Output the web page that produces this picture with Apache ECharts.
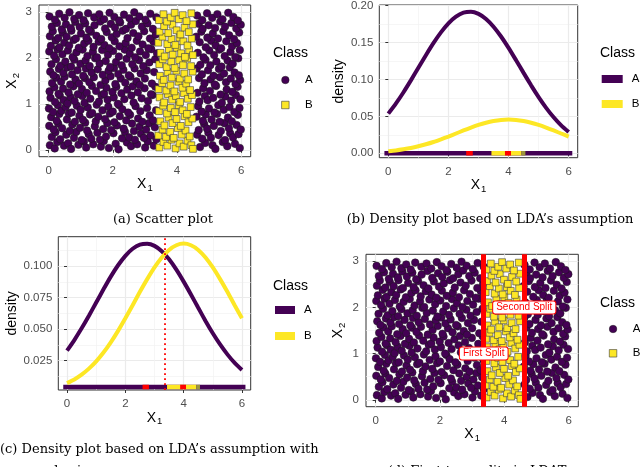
<!DOCTYPE html>
<html>
<head>
<meta charset="utf-8">
<script src="https://cdn.jsdelivr.net/npm/echarts@6/dist/echarts.min.js"></script>
<style>
html, body { margin: 0; padding: 0; background: #fff; }
#chart { width: 640px; height: 467px; }
</style>
</head>
<body>
<div id="chart"></div>
<script>
// points of class A (circles) (a) strip by strip
var classA = [
  [0.04,0.1],[0.19,0.03],[0.27,0.17],[0.48,0.09],[0.61,0.14],[0.7,0.02],[0.93,0.11],[1.1,0.18],[1.17,0.05],[1.39,0.12],[1.63,0.07],[1.72,0.19],[1.88,0.04],[2.09,0.13],[2.18,0.01],[2.44,0.16],[2.57,0.08],[2.76,0.12],[3.01,0.05],[3.09,0.18],[3.28,0.09],[4.72,0.06],[4.88,0.15],[5.11,0.1],[5.2,0.02],[5.43,0.17],[5.57,0.08],[5.81,0.13],[5.96,0.04],
  [0.1,0.28],[0.21,0.38],[0.36,0.23],[0.55,0.33],[0.79,0.26],[0.86,0.39],[1.03,0.21],[1.25,0.34],[1.33,0.24],[1.52,0.37],[1.6,0.22],[1.79,0.29],[2.02,0.36],[2.29,0.25],[2.38,0.39],[2.51,0.27],[2.69,0.22],[2.88,0.35],[2.97,0.26],[3.18,0.31],[3.36,0.23],[4.63,0.33],[4.79,0.24],[4.98,0.37],[5.06,0.26],[5.3,0.32],[5.5,0.21],[5.66,0.36],[5.75,0.27],[5.92,0.34],
  [0.02,0.52],[0.16,0.44],[0.3,0.57],[0.42,0.47],[0.66,0.41],[0.74,0.55],[0.98,0.48],[1.14,0.59],[1.2,0.42],[1.44,0.51],[1.7,0.45],[1.83,0.58],[1.95,0.43],[2.13,0.53],[2.34,0.46],[2.6,0.57],[2.66,0.41],[2.83,0.5],[3.04,0.44],[3.13,0.58],[3.31,0.49],[4.68,0.43],[4.85,0.56],[4.94,0.46],[5.15,0.52],[5.37,0.41],[5.48,0.58],[5.62,0.47],[5.86,0.54],[5.99,0.44],
  [0.08,0.71],[0.25,0.63],[0.33,0.78],[0.57,0.66],[0.63,0.79],[0.82,0.61],[0.96,0.74],[1.07,0.65],[1.29,0.77],[1.47,0.62],[1.55,0.72],[1.76,0.67],[1.91,0.79],[2.05,0.6],[2.22,0.73],[2.42,0.64],[2.54,0.76],[2.79,0.68],[2.92,0.61],[3.15,0.75],[3.26,0.64],[4.61,0.72],[4.81,0.63],[4.9,0.77],[5.08,0.66],[5.25,0.78],[5.33,0.61],[5.59,0.7],[5.71,0.62],[5.9,0.76],
  [0.01,0.9],[0.14,0.82],[0.29,0.97],[0.4,0.85],[0.53,0.93],[0.72,0.81],[0.88,0.96],[1.0,0.87],[1.22,0.92],[1.36,0.8],[1.5,0.98],[1.68,0.86],[1.86,0.94],[2.0,0.83],[2.2,0.97],[2.3,0.88],[2.48,0.81],[2.71,0.95],[2.86,0.84],[3.07,0.91],[3.35,0.86],[4.66,0.95],[4.77,0.83],[5.0,0.9],[5.17,0.81],[5.29,0.97],[5.46,0.87],[5.64,0.93],[5.79,0.82],[5.95,0.91],
  [0.06,1.13],[0.2,1.04],[0.35,1.18],[0.47,1.08],[0.59,1.01],[0.68,1.15],[0.81,1.06],[1.05,1.17],[1.12,1.02],[1.3,1.11],[1.57,1.05],[1.65,1.19],[1.84,1.09],[2.03,1.14],[2.16,1.0],[2.36,1.1],[2.58,1.18],[2.65,1.03],[2.9,1.12],[3.1,1.06],[3.24,1.19],[4.7,1.05],[4.87,1.17],[4.96,1.08],[5.13,1.13],[5.4,1.02],[5.51,1.16],[5.69,1.07],[5.84,1.19],[5.98,1.1],
  [0.03,1.27],[0.18,1.36],[0.31,1.22],[0.45,1.33],[0.62,1.25],[0.77,1.38],[0.91,1.21],[1.04,1.32],[1.19,1.24],[1.35,1.39],[1.48,1.28],[1.73,1.22],[1.8,1.35],[1.99,1.26],[2.11,1.37],[2.27,1.23],[2.45,1.31],[2.62,1.38],[2.78,1.25],[2.99,1.34],[3.19,1.21],[3.33,1.37],[4.64,1.24],[4.82,1.34],[5.03,1.28],[5.22,1.39],[5.36,1.2],[5.55,1.31],[5.73,1.26],[5.89,1.37],
  [0.11,1.45],[0.24,1.57],[0.39,1.48],[0.5,1.59],[0.67,1.42],[0.84,1.53],[0.95,1.44],[1.13,1.56],[1.27,1.47],[1.41,1.58],[1.62,1.41],[1.77,1.51],[1.93,1.6],[2.08,1.43],[2.25,1.55],[2.39,1.46],[2.55,1.59],[2.74,1.49],[2.84,1.41],[3.0,1.55],[3.22,1.44],[4.69,1.56],[4.86,1.45],[5.05,1.53],[5.18,1.42],[5.34,1.58],[5.53,1.47],[5.68,1.55],[5.83,1.43],[5.97,1.52],
  [0.05,1.7],[0.15,1.62],[0.32,1.76],[0.46,1.67],[0.58,1.79],[0.73,1.64],[0.9,1.73],[1.08,1.61],[1.16,1.77],[1.34,1.68],[1.53,1.75],[1.69,1.63],[1.87,1.72],[2.04,1.78],[2.17,1.65],[2.33,1.74],[2.5,1.62],[2.68,1.77],[2.87,1.66],[3.06,1.73],[3.29,1.69],[4.62,1.77],[4.78,1.64],[4.97,1.73],[5.14,1.61],[5.31,1.76],[5.47,1.66],[5.65,1.79],[5.8,1.68],[5.93,1.62],
  [0.09,1.86],[0.23,1.97],[0.37,1.83],[0.52,1.92],[0.7,1.81],[0.8,1.96],[0.99,1.87],[1.15,1.94],[1.28,1.82],[1.45,1.99],[1.59,1.88],[1.78,1.93],[1.92,1.8],[2.1,1.91],[2.28,1.84],[2.43,1.98],[2.61,1.86],[2.82,1.95],[2.95,1.82],[3.14,1.9],[3.32,1.97],[4.73,1.85],[4.89,1.96],[5.04,1.84],[5.23,1.92],[5.39,1.81],[5.58,1.94],[5.74,1.87],[5.91,1.99],
  [0.02,2.14],[0.17,2.05],[0.28,2.19],[0.43,2.08],[0.6,2.16],[0.75,2.02],[0.87,2.12],[1.06,2.18],[1.21,2.04],[1.38,2.13],[1.51,2.01],[1.67,2.17],[1.85,2.07],[2.01,2.15],[2.19,2.03],[2.37,2.18],[2.53,2.09],[2.7,2.01],[2.85,2.14],[3.03,2.06],[3.2,2.19],[3.38,2.1],[4.65,2.11],[4.83,2.01],[5.01,2.16],[5.16,2.06],[5.32,2.18],[5.49,2.04],[5.67,2.13],[5.82,2.02],[5.96,2.17],
  [0.07,2.26],[0.22,2.38],[0.34,2.23],[0.49,2.33],[0.64,2.27],[0.78,2.39],[0.94,2.22],[1.11,2.31],[1.24,2.37],[1.4,2.24],[1.56,2.35],[1.74,2.28],[1.89,2.21],[2.06,2.36],[2.21,2.25],[2.4,2.32],[2.59,2.22],[2.75,2.37],[2.93,2.29],[3.11,2.21],[3.27,2.35],[4.71,2.34],[4.9,2.23],[5.07,2.37],[5.21,2.27],[5.38,2.21],[5.54,2.36],[5.72,2.25],[5.87,2.32],
  [0.04,2.47],[0.13,2.58],[0.3,2.43],[0.44,2.55],[0.56,2.46],[0.71,2.59],[0.85,2.42],[1.01,2.53],[1.18,2.44],[1.32,2.57],[1.49,2.48],[1.64,2.41],[1.81,2.56],[1.97,2.45],[2.12,2.52],[2.31,2.59],[2.46,2.43],[2.64,2.54],[2.8,2.47],[2.98,2.58],[3.16,2.42],[3.34,2.51],[4.6,2.46],[4.76,2.57],[4.95,2.44],[5.12,2.53],[5.28,2.42],[5.45,2.58],[5.63,2.49],[5.78,2.41],[5.94,2.55],
  [0.1,2.68],[0.26,2.76],[0.41,2.62],[0.54,2.73],[0.69,2.65],[0.83,2.78],[0.97,2.67],[1.14,2.75],[1.26,2.61],[1.43,2.71],[1.61,2.79],[1.76,2.64],[1.94,2.74],[2.07,2.66],[2.23,2.77],[2.41,2.63],[2.57,2.72],[2.72,2.8],[2.91,2.68],[3.08,2.75],[3.25,2.63],[4.68,2.74],[4.8,2.63],[4.99,2.71],[5.19,2.65],[5.35,2.79],[5.5,2.68],[5.7,2.76],[5.85,2.64],[5.99,2.72],
  [0.03,2.9],[0.2,2.83],[0.33,2.96],[0.5,2.87],[0.65,2.99],[0.8,2.85],[0.95,2.93],[1.09,2.82],[1.23,2.97],[1.42,2.88],[1.58,2.95],[1.73,2.84],[1.9,2.98],[2.05,2.89],[2.2,2.81],[2.35,2.94],[2.52,2.86],[2.67,2.99],[2.83,2.9],[3.02,2.83],[3.17,2.96],[3.36,2.88],[4.63,2.92],[4.79,2.82],[4.94,2.97],[5.1,2.87],[5.26,2.95],[5.42,2.84],[5.6,2.98],[5.76,2.89],[5.9,2.81]
];

// points of class B (squares), all inside the band 3.4 < X1 < 4.55
var classB = [
  [3.45,0.05],[3.58,0.17],[3.7,0.09],[3.83,0.22],[3.96,0.03],[4.08,0.14],[4.21,0.07],[4.33,0.2],[4.45,0.1],[4.5,0.02],
  [3.42,0.31],[3.55,0.44],[3.66,0.28],[3.79,0.39],[3.9,0.26],[4.03,0.47],[4.15,0.33],[4.27,0.42],[4.4,0.29],
  [3.48,0.62],[3.61,0.53],[3.74,0.7],[3.86,0.58],[3.99,0.67],[4.12,0.52],[4.24,0.73],[4.36,0.6],[4.48,0.68],
  [3.44,0.84],[3.57,0.96],[3.69,0.79],[3.81,0.91],[3.94,0.82],[4.06,0.97],[4.18,0.86],[4.31,0.78],[4.43,0.93],
  [3.46,1.14],[3.6,1.03],[3.72,1.21],[3.85,1.09],[3.97,1.17],[4.1,1.04],[4.22,1.23],[4.34,1.11],[4.47,1.19],
  [3.43,1.32],[3.54,1.45],[3.67,1.29],[3.8,1.4],[3.92,1.27],[4.05,1.48],[4.17,1.35],[4.29,1.44],[4.41,1.3],
  [3.47,1.61],[3.59,1.52],[3.71,1.69],[3.84,1.57],[3.98,1.72],[4.09,1.55],[4.23,1.66],[4.35,1.53],[4.49,1.7],
  [3.45,1.86],[3.56,1.97],[3.68,1.8],[3.82,1.92],[3.93,1.78],[4.07,1.95],[4.19,1.84],[4.32,1.99],[4.44,1.82],
  [3.49,2.11],[3.62,2.03],[3.75,2.19],[3.87,2.07],[4.0,2.22],[4.13,2.1],[4.25,2.02],[4.38,2.17],[4.5,2.06],
  [3.42,2.33],[3.55,2.46],[3.7,2.3],[3.83,2.41],[3.95,2.28],[4.08,2.44],[4.2,2.36],[4.33,2.27],[4.46,2.42],
  [3.46,2.57],[3.6,2.69],[3.73,2.54],[3.86,2.72],[3.99,2.6],[4.11,2.51],[4.24,2.66],[4.37,2.56],[4.49,2.73],
  [3.44,2.82],[3.58,2.95],[3.69,2.79],[3.81,2.88],[3.93,2.98],[4.06,2.84],[4.18,2.93],[4.3,2.8],[4.45,2.97]
];

// density curves read at X1 = 0, 0.25, ..., 6
var densX = [0, 0.25, 0.5, 0.75, 1, 1.25, 1.5, 1.75, 2, 2.25, 2.5, 2.75, 3, 3.25, 3.5, 3.75, 4, 4.25, 4.5, 4.75, 5, 5.25, 5.5, 5.75, 6];
var densA = [0.0537, 0.0673, 0.0824, 0.0988, 0.1159, 0.1329, 0.1492, 0.1639, 0.1762, 0.1852, 0.1906, 0.1918, 0.1889, 0.1820, 0.1716, 0.1583, 0.1429, 0.1261, 0.1090, 0.0921, 0.0762, 0.0616, 0.0488, 0.0378, 0.0287];
var densB = [0.0028, 0.0039, 0.0054, 0.0072, 0.0095, 0.0122, 0.0153, 0.0189, 0.0227, 0.0268, 0.0309, 0.0348, 0.0384, 0.0414, 0.0437, 0.0452, 0.0457, 0.0452, 0.0437, 0.0414, 0.0384, 0.0348, 0.0309, 0.0268, 0.0227];
var densAEqual = [0.0330, 0.0414, 0.0507, 0.0607, 0.0712, 0.0817, 0.0918, 0.1008, 0.1083, 0.1139, 0.1172, 0.1179, 0.1162, 0.1119, 0.1055, 0.0973, 0.0878, 0.0776, 0.0670, 0.0566, 0.0468, 0.0379, 0.0300, 0.0232, 0.0176];
var densBEqual = [0.0072, 0.0101, 0.0139, 0.0187, 0.0245, 0.0315, 0.0396, 0.0487, 0.0587, 0.0691, 0.0797, 0.0898, 0.0991, 0.1070, 0.1130, 0.1167, 0.1180, 0.1167, 0.1130, 0.1070, 0.0991, 0.0898, 0.0797, 0.0691, 0.0587];

// rug along X1
var rugA = [-0.13, 6.12];
var rugB = [3.43, 4.43];
var rugMix = [4.43, 4.56];
var rugMeans = [[2.59, 2.81], [3.88, 4.08]];

var ldaBoundary = 3.35;
var splitX = [3.36, 4.62];
var splitY = [1, 2];
var splitNames = ['First Split', 'Second Split'];

var xTicks = [0, 2, 4, 6], xMinor = [1, 3, 5];
var scatterTicks = [0, 1, 2, 3], scatterMinor = [0.5, 1.5, 2.5];
var densTicks = [0, 0.05, 0.1, 0.15, 0.2], densMinor = [0.025, 0.075, 0.125, 0.175];
var equalTicks = [0.025, 0.05, 0.075, 0.1], equalMinor = [0.0125, 0.0375, 0.0625, 0.0875, 0.1125];

var purple = '#440154', yellow = '#FDE725', red = '#FF0000';
var SANS = "'Liberation Sans', Arial, sans-serif";
var SERIF = "'DejaVu Serif', serif";

var nameStyle = {
    fontSize: 14, color: '#000', fontFamily: SANS,
    rich: { s: { fontSize: 9.5, fontFamily: SANS, color: '#000', padding: [7, 0, 0, 1] } }
};

function mainAxis(gi, min, max, ticks, pos, name, gap, fmt, margin) {
    return {
        type: 'value', gridIndex: gi, min: min, max: max, position: pos,
        axisLine: { show: false },
        axisTick: { show: true, length: 3, customValues: ticks, lineStyle: { color: '#333', width: 1 } },
        axisLabel: { customValues: ticks, margin: margin, color: '#4d4d4d', fontSize: 11.5, fontFamily: SANS, formatter: fmt },
        splitLine: { show: true, lineStyle: { color: '#ebebeb', width: 1.2 } },
        name: name, nameLocation: 'middle', nameGap: gap, nameTextStyle: nameStyle
    };
}
function minorAxis(gi, min, max, ticks, pos) {
    return {
        type: 'value', gridIndex: gi, min: min, max: max, position: pos,
        axisLine: { show: false },
        axisTick: { show: false, customValues: ticks },
        axisLabel: { show: false, customValues: ticks },
        splitLine: { show: true, lineStyle: { color: '#f2f2f2', width: 0.7 } }
    };
}
function plainFmt(v) { return String(v); }
function fmt2(v) { return v.toFixed(2); }
function fmt3(v) { return v.toFixed(3); }

function pairs(xs, ys) { return xs.map(function (x, i) { return [x, ys[i]]; }); }

function curve(ax, name, ys, color) {
    return {
        type: 'line', name: name, xAxisIndex: ax, yAxisIndex: ax, data: pairs(densX, ys),
        smooth: 0.2, symbol: 'none', silent: true, z: 3,
        lineStyle: { color: color, width: 4 }
    };
}
function rug(ax, range, y, color, z) {
    return {
        type: 'line', name: 'rug', xAxisIndex: ax, yAxisIndex: ax,
        data: [[range[0], y], [range[1], y]], symbol: 'none', silent: true, z: z,
        lineStyle: { color: color, width: 4.5, cap: 'butt' }
    };
}
function rugSet(ax, y) {
    var out = [rug(ax, rugA, y, purple, 2), rug(ax, rugB, y, yellow, 2.1), rug(ax, rugMix, y, '#9c963c', 2.1)];
    rugMeans.forEach(function (r) { out.push(rug(ax, r, y, red, 2.2)); });
    return out;
}
function points(ax) {
    return [
        { type: 'scatter', name: 'A', xAxisIndex: ax, yAxisIndex: ax, data: classA, symbol: 'circle', symbolSize: 7.6,
          silent: true, itemStyle: { color: purple, borderColor: '#1a1a1a', borderWidth: 0.5, opacity: 1 } },
        { type: 'scatter', name: 'B', xAxisIndex: ax, yAxisIndex: ax, data: classB, symbol: 'rect', symbolSize: 6.8,
          silent: true, itemStyle: { color: yellow, borderColor: '#3a3a3a', borderWidth: 0.6, opacity: 1 } }
    ];
}

var pointLegend = [
    { name: 'A', icon: 'circle', itemStyle: { color: purple, borderColor: '#1a1a1a', borderWidth: 0.5 } },
    { name: 'B', icon: 'rect', itemStyle: { color: yellow, borderColor: '#3a3a3a', borderWidth: 0.6 } }
];
var lineLegend = [
    { name: 'A', icon: 'rect', itemStyle: { color: purple, borderWidth: 0 } },
    { name: 'B', icon: 'rect', itemStyle: { color: yellow, borderWidth: 0 } }
];
function legend(left, top, w, h, gap, data, textPad) {
    return {
        orient: 'vertical', left: left, top: top, padding: 0, itemWidth: w, itemHeight: h, itemGap: gap,
        selectedMode: false, symbolKeepAspect: false, data: data,
        textStyle: { fontSize: 11.5, color: '#000', fontFamily: SANS, lineHeight: 14, padding: [0, 0, 0, textPad] }
    };
}
function label(x, y, text, font, align) {
    return { type: 'text', x: x, y: y, silent: true,
             style: { text: text, font: font, fill: '#000', align: align, verticalAlign: 'middle',
                      textAlign: align, textVerticalAlign: 'middle' } };
}

function gridBox(left, top, width, height) {
    return { left: left, top: top, width: width, height: height, containLabel: false, outerBoundsMode: 'none',
             show: true, backgroundColor: '#fff', borderColor: '#333', borderWidth: 1 };
}

var chart = echarts.init(document.getElementById('chart'), null, { renderer: 'canvas' });

var series = [];
// (a) scatter
series = series.concat(points(0));
// (b) LDA densities
series.push(curve(2, 'A', densA, purple), curve(2, 'B', densB, yellow));
series = series.concat(rugSet(2, 0));
// (c) equal priors
series.push(curve(4, 'A', densAEqual, purple), curve(4, 'B', densBEqual, yellow));
series = series.concat(rugSet(4, 0.004));
series.push({
    type: 'line', name: 'boundary', xAxisIndex: 4, yAxisIndex: 4, data: [], silent: true, z: 4,
    markLine: { silent: true, symbol: ['none', 'none'], label: { show: false }, animation: false,
                lineStyle: { color: red, width: 1.8, type: [1.8, 3.2] },
                data: [{ xAxis: ldaBoundary }] }
});
// (d) splits
series = series.concat(points(6));
series.push({
    type: 'line', name: 'splits', xAxisIndex: 6, yAxisIndex: 6, data: [], silent: true, z: 4,
    markLine: { silent: true, symbol: ['none', 'none'], label: { show: false }, animation: false,
                lineStyle: { color: red, width: 5, type: 'solid' },
                data: splitX.map(function (v) { return { xAxis: v }; }) }
});
series.push({
    type: 'scatter', name: 'splitLabels', xAxisIndex: 6, yAxisIndex: 6, z: 6, silent: true,
    symbolSize: 0.1, itemStyle: { color: red, opacity: 1 },
    data: splitX.map(function (x, i) { return { value: [x, splitY[i]], name: splitNames[i] }; }),
    label: { show: true, position: 'inside', formatter: '{b}', color: red, opacity: 1, fontSize: 10, fontFamily: SANS,
             backgroundColor: '#fff', borderColor: red, borderWidth: 1, borderRadius: 2, padding: [1, 3, 1, 3] },
    labelLayout: { hideOverlap: false }
});

chart.setOption({
    animation: false,
    backgroundColor: '#fff',
    grid: [
        gridBox(39, 5, 211.7, 151.7),
        gridBox(379.3, 5, 198.4, 152.7),
        gridBox(58.3, 236.7, 192.4, 153.3),
        gridBox(366, 254.3, 212.3, 152.4)
    ],
    xAxis: [
        mainAxis(0, -0.3, 6.3, xTicks, 'bottom', 'X{s|1}', 19, plainFmt, 8), minorAxis(0, -0.3, 6.3, xMinor, 'top'),
        mainAxis(1, -0.3, 6.3, xTicks, 'bottom', 'X{s|1}', 19, plainFmt, 8), minorAxis(1, -0.3, 6.3, xMinor, 'top'),
        mainAxis(2, -0.3, 6.3, xTicks, 'bottom', 'X{s|1}', 19, plainFmt, 8), minorAxis(2, -0.3, 6.3, xMinor, 'top'),
        mainAxis(3, -0.3, 6.3, xTicks, 'bottom', 'X{s|1}', 19, plainFmt, 8), minorAxis(3, -0.3, 6.3, xMinor, 'top')
    ],
    yAxis: [
        mainAxis(0, -0.15, 3.15, scatterTicks, 'left', 'X{s|2}', 18, plainFmt, 7), minorAxis(0, -0.15, 3.15, scatterMinor, 'right'),
        mainAxis(1, -0.006, 0.201, densTicks, 'left', 'density', 33, fmt2, 6), minorAxis(1, -0.006, 0.201, densMinor, 'right'),
        mainAxis(2, 0.0017, 0.1235, equalTicks, 'left', 'density', 38, fmt3, 6), minorAxis(2, 0.0017, 0.1235, equalMinor, 'right'),
        mainAxis(3, -0.15, 3.15, scatterTicks, 'left', 'X{s|2}', 19, plainFmt, 7), minorAxis(3, -0.15, 3.15, scatterMinor, 'right')
    ],
    legend: [
        legend(281.3, 73, 7.5, 7.5, 11, pointLegend, 11),
        legend(601.7, 72, 21, 8, 11, lineLegend, 4),
        legend(275, 303, 20, 8, 12, lineLegend, 4),
        legend(609, 322, 7.5, 7.5, 10.3, pointLegend, 11)
    ],
    graphic: [
        label(273, 53, 'Class', '14px ' + SANS, 'left'),
        label(600, 53, 'Class', '14px ' + SANS, 'left'),
        label(273, 286, 'Class', '14px ' + SANS, 'left'),
        label(600, 303, 'Class', '14px ' + SANS, 'left'),
        label(163, 220, '(a) Scatter plot', '13px ' + SERIF, 'center'),
        label(490, 220, '(b) Density plot based on LDA\u2019s assumption', '13px ' + SERIF, 'center'),
        label(0, 450, '(c) Density plot based on LDA\u2019s assumption with', '13px ' + SERIF, 'left'),
        label(22, 472, 'equal priors', '13px ' + SERIF, 'left'),
        label(477, 472, '(d) First two splits in LDAT', '13px ' + SERIF, 'center')
    ],
    series: series
});
</script>
</body>
</html>
